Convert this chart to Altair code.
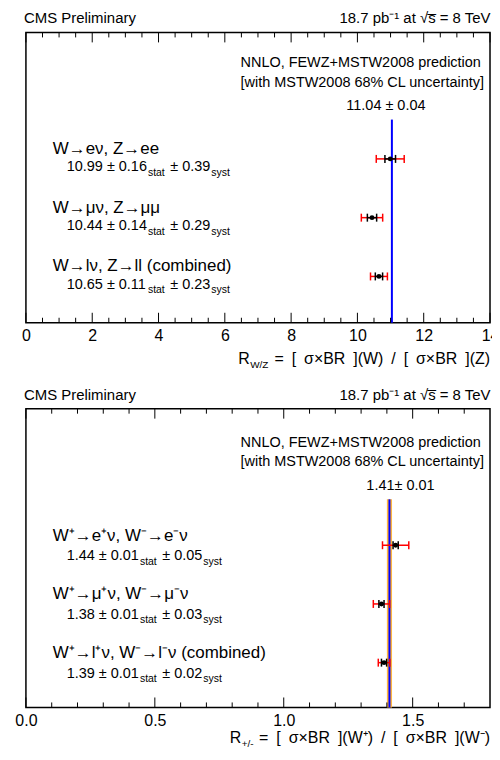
import altair as alt
import pandas as pd

FONT = "Liberation Sans"
W = 466

# ---------------- R_W/Z panel data ----------------
wz_channels = ["W→eν, Z→ee", "W→μν, Z→μμ", "W→lν, Z→ll (combined)"]
wz_values = [10.99, 10.44, 10.65]
wz_stat = [0.16, 0.14, 0.11]
wz_syst = [0.39, 0.29, 0.23]
wz_main_text = ["10.99 ± 0.16", "10.44 ± 0.14", "10.65 ± 0.11"]
wz_syst_text = ["± 0.39", "± 0.29", "± 0.23"]
wz_pred = 11.04
wz_pred_err = 0.04
wz_pred_label = "11.04 ± 0.04"
wz_tick_labels = [0, 2, 4, 6, 8, 10, 12, 14]
wz_minor = [0.5, 1, 1.5, 2.5, 3, 3.5, 4.5, 5, 5.5, 6.5, 7, 7.5, 8.5, 9, 9.5,
            10.5, 11, 11.5, 12.5, 13, 13.5]
wz_domain = [0, 14]

# ---------------- R_+/- panel data ----------------
pm_channels = ["W⁺→e⁺ν, W⁻→e⁻ν", "W⁺→μ⁺ν, W⁻→μ⁻ν", "W⁺→l⁺ν, W⁻→l⁻ν (combined)"]
pm_values = [1.434, 1.379, 1.389]
pm_stat = [0.01, 0.01, 0.01]
pm_syst = [0.05, 0.03, 0.02]
pm_main_text = ["1.44 ± 0.01", "1.38 ± 0.01", "1.39 ± 0.01"]
pm_syst_text = ["± 0.05", "± 0.03", "± 0.02"]
pm_pred = 1.41
pm_pred_err = 0.01
pm_pred_label = "1.41± 0.01"
pm_tick_labels = [0.0, 0.5, 1.0, 1.5]
pm_minor = [0.1, 0.2, 0.3, 0.4, 0.6, 0.7, 0.8, 0.9, 1.1, 1.2, 1.3, 1.4, 1.6, 1.7]
pm_domain = [0, 1.8]

rows = [3, 2, 1]

header_left = "CMS Preliminary"
header_right = "18.7 pb⁻¹  at √s̅ = 8 TeV"
theory_lines = ["NNLO, FEWZ+MSTW2008 prediction", "[with MSTW2008 68% CL uncertainty]"]


def cw(s, fs):
    table = {'.': .278, ' ': .278, '±': .584, 's': .5, 't': .278, 'a': .556, 'y': .5}
    return sum(table.get(c, .556) for c in s) * fs


def panel(channels, values, stats, systs, main_text, syst_text, pred, pred_err, pred_label,
          band, tick_labels, minor, domain, fmt, height, ydomain, l1_dy, l2_dy,
          t_R, t_sub, t_rest, t_base, t_sub_base, t_sub_x, top_shift, hdr_y):
    tot = [(a ** 2 + b ** 2) ** 0.5 for a, b in zip(stats, systs)]
    df = pd.DataFrame({
        "row": rows, "value": values,
        "slo": [v - s for v, s in zip(values, stats)],
        "shi": [v + s for v, s in zip(values, stats)],
        "tlo": [v - t for v, t in zip(values, tot)],
        "thi": [v + t for v, t in zip(values, tot)],
        "label": channels, "main": main_text, "systt": syst_text,
        "stat_sub": ["stat"] * 3, "syst_sub": ["syst"] * 3,
    })
    xs = alt.Scale(domain=domain, nice=False, zero=False)
    ys = alt.Scale(domain=ydomain, nice=False, zero=False, padding=0)
    axis = alt.Axis(values=tick_labels, format=fmt, labelFont=FONT, labelFontSize=16,
                    labelColor="black", labelPadding=5, ticks=False, domain=False, grid=False,
                    labelFlush=False, labelOverlap=False, title=None)

    def X(f):
        return alt.X(f, type="quantitative", scale=xs, axis=axis, title=None)

    Y = alt.Y("row:Q", scale=ys, axis=None)
    base = alt.Chart(df)
    layers = []
    s = top_shift

    pdf = pd.DataFrame({"pred": [pred], "lo": [pred - pred_err], "hi": [pred + pred_err],
                        "label": [pred_label]})
    pc = alt.Chart(pdf)
    if band:
        layers.append(pc.mark_rect(color="#FFB640").encode(
            x=X("lo"), x2="hi:Q", y=alt.value(91 - s), y2=alt.value(height)))
    layers.append(pc.mark_rule(color="#0000FF", strokeWidth=2).encode(
        x=X("pred"), y=alt.value(91 - s), y2=alt.value(height)))
    layers.append(pc.mark_text(font=FONT, fontSize=14.5, align="center", baseline="alphabetic",
                               dx=-6 if not band else 11, color="black").encode(
        x=X("pred"), y=alt.value(81.5 - s), text="label:N"))

    # ticks (inside frame, top and bottom)
    mj = alt.Chart(pd.DataFrame({"t": tick_labels}))
    mn = alt.Chart(pd.DataFrame({"t": minor}))
    layers.append(mj.mark_rule(color="black", strokeWidth=1).encode(
        x=X("t"), y=alt.value(0), y2=alt.value(10)))
    layers.append(mj.mark_rule(color="black", strokeWidth=1).encode(
        x=X("t"), y=alt.value(height), y2=alt.value(height - 10)))
    layers.append(mn.mark_rule(color="black", strokeWidth=1).encode(
        x=X("t"), y=alt.value(0), y2=alt.value(5)))
    layers.append(mn.mark_rule(color="black", strokeWidth=1).encode(
        x=X("t"), y=alt.value(height), y2=alt.value(height - 5)))

    # error bars
    red = "#FF0000"
    layers.append(base.mark_rule(color=red, strokeWidth=1.5).encode(x=X("tlo"), x2="thi:Q", y=Y))
    for f in ["tlo", "thi"]:
        layers.append(base.mark_tick(orient="vertical", color=red, size=8, thickness=1.5,
                                     opacity=1).encode(x=X(f), y=Y))
    layers.append(base.mark_rule(color="black", strokeWidth=1.5).encode(x=X("slo"), x2="shi:Q", y=Y))
    for f in ["slo", "shi"]:
        layers.append(base.mark_tick(orient="vertical", color="black", size=8, thickness=1.5,
                                     opacity=1).encode(x=X(f), y=Y))
    layers.append(base.mark_circle(size=24, color="black", opacity=1).encode(x=X("value"), y=Y))

    # channel labels
    layers.append(base.mark_text(font=FONT, fontSize=17, align="left", baseline="alphabetic",
                                 dy=l1_dy, color="black").encode(
        x=alt.value(27), y=Y, text="label:N"))
    x0 = 41
    x_stat = x0 + cw(main_text[0], 14.5) + 0.5
    x_sy = x_stat + cw("stat", 10.5) + 5.5
    x_syst = x_sy + cw(syst_text[0], 14.5) + 0.5
    layers.append(base.mark_text(font=FONT, fontSize=14.5, align="left", baseline="alphabetic",
                                 dy=l2_dy, color="black").encode(
        x=alt.value(x0), y=Y, text="main:N"))
    layers.append(base.mark_text(font=FONT, fontSize=10.5, align="left", baseline="alphabetic",
                                 dy=l2_dy + 4.5, color="black").encode(
        x=alt.value(x_stat), y=Y, text="stat_sub:N"))
    layers.append(base.mark_text(font=FONT, fontSize=14.5, align="left", baseline="alphabetic",
                                 dy=l2_dy, color="black").encode(
        x=alt.value(x_sy), y=Y, text="systt:N"))
    layers.append(base.mark_text(font=FONT, fontSize=10.5, align="left", baseline="alphabetic",
                                 dy=l2_dy + 4.5, color="black").encode(
        x=alt.value(x_syst), y=Y, text="syst_sub:N"))

    # theory legend text
    for i, yy in enumerate([38, 58]):
        layers.append(alt.Chart(pd.DataFrame({"t": [theory_lines[i]]})).mark_text(
            font=FONT, fontSize=14.5, align="left", baseline="alphabetic", color="black").encode(
            x=alt.value(215.5), y=alt.value(yy - s), text="t:N"))

    # header
    layers.append(alt.Chart(pd.DataFrame({"t": [header_left]})).mark_text(
        font=FONT, fontSize=15, align="left", baseline="alphabetic", color="black").encode(
        x=alt.value(-2), y=alt.value(hdr_y), text="t:N"))
    layers.append(alt.Chart(pd.DataFrame({"t": [header_right]})).mark_text(
        font=FONT, fontSize=15, align="right", baseline="alphabetic", color="black").encode(
        x=alt.value(W + 0.5), y=alt.value(hdr_y), text="t:N"))

    # axis title pieces
    layers.append(alt.Chart(pd.DataFrame({"t": [t_R]})).mark_text(
        font=FONT, fontSize=16, align="left", baseline="alphabetic", color="black").encode(
        x=alt.value(t_sub_x - 12), y=alt.value(height + t_base), text="t:N"))
    layers.append(alt.Chart(pd.DataFrame({"t": [t_sub]})).mark_text(
        font=FONT, fontSize=10, align="left", baseline="alphabetic", color="black").encode(
        x=alt.value(t_sub_x), y=alt.value(height + t_sub_base), text="t:N"))
    layers.append(alt.Chart(pd.DataFrame({"t": [t_rest]})).mark_text(
        font=FONT, fontSize=16, align="right", baseline="alphabetic", color="black").encode(
        x=alt.value(W), y=alt.value(height + t_base), text="t:N"))

    return alt.layer(*layers).properties(width=W, height=height)


E = "\u2002"
# top panel: the page margin pushes the frame top ~3.5px down, so its height is trimmed
TS = 3.5
top = panel(wz_channels, wz_values, wz_stat, wz_syst, wz_main_text, wz_syst_text,
            wz_pred, wz_pred_err, wz_pred_label, False, wz_tick_labels, wz_minor, wz_domain, "d",
            295 - TS, [0.212, 5.152], -5, 12.5,
            "R", "W/Z", " =" + E + "[" + E + "σ×BR" + E + "](W)" + E + "/" + E + "[" + E + "σ×BR" + E + "](Z)",
            41.7, 45.7, 225.2, TS, -9.5)
bottom = panel(pm_channels, pm_values, pm_stat, pm_syst, pm_main_text, pm_syst_text,
               pm_pred, pm_pred_err, pm_pred_label, True, pm_tick_labels, pm_minor, pm_domain, ".1f",
               300, [0.237, 5.326], -4.5, 15,
               "R", "+/-", " =" + E + "[" + E + "σ×BR" + E + "](W⁺)" + E + "/" + E + "[" + E + "σ×BR" + E + "](W⁻)",
               36, 40, 216.7, 0, -9)

chart = alt.vconcat(top, bottom, spacing=15.8).properties(
    padding={"left": 6, "top": 0, "right": -8, "bottom": 0}
).configure(font=FONT).configure_view(stroke="black", strokeWidth=1.5)

chart.save("out.html", embed_options={"renderer": "svg", "actions": False})
